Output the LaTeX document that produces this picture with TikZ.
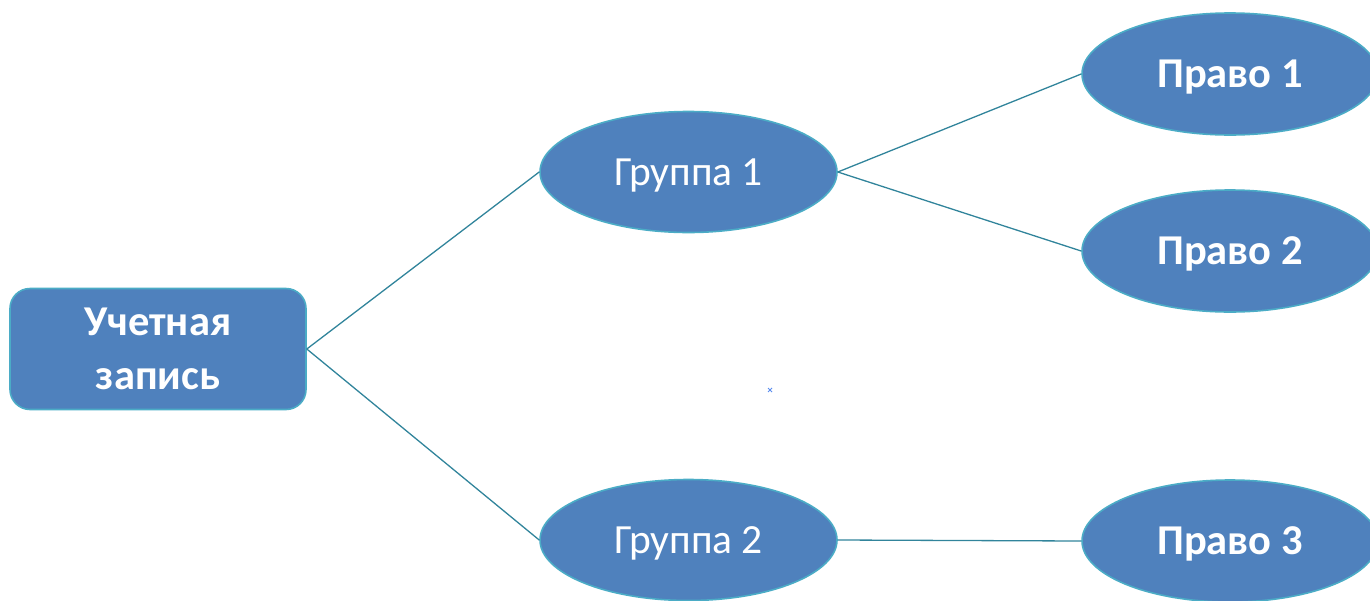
\documentclass[tikz,border=0pt]{standalone}
\usepackage{fontspec}
\setmainfont{Carlito}
\usetikzlibrary{shapes.geometric}
\definecolor{nodefill}{HTML}{4F81BD}
\definecolor{nodeborder}{HTML}{4BACC6}
\definecolor{linkcol}{HTML}{31849B}
\definecolor{markcol}{HTML}{5B8DEF}
\tikzset{
  base/.style={fill=nodefill, draw=nodeborder, line width=1.6pt, text=white, inner sep=0pt},
  acct/.style={base, rectangle, rounded corners=20pt, minimum width=296pt, minimum height=121pt,
    align=center, font=\fontsize{42.5}{54}\selectfont\bfseries},
  grp/.style={base, ellipse, minimum width=297pt, minimum height=121pt,
    text height=26.5pt, text depth=0pt, font=\fontsize{41.5}{50}\selectfont},
  right/.style={base, ellipse, minimum width=296pt, minimum height=122pt,
    text height=27pt, text depth=0pt, font=\fontsize{42.5}{50}\selectfont\bfseries},
  link/.style={draw=linkcol, line width=1.3pt},
}
\begin{document}
\begin{tikzpicture}[x=1pt,y=1pt]
\useasboundingbox (0,0) rectangle (1370,-600);
\node[acct] (acc) at (158,-349) {Учетная\\запись};
\node[grp] (g1) at (688.5,-172) {Группа 1};
\node[grp] (g2) at (688.5,-540) {Группа 2};
\node[right] (p1) at (1230,-74) {Право 1};
\node[right] (p2) at (1230,-251) {Право 2};
\node[right] (p3) at (1230,-541) {Право 3};
\draw[link] (acc.east) -- (g1.west);
\draw[link] (acc.east) -- (g2.west);
\draw[link] (g1.east) -- (p1.west);
\draw[link] (g1.east) -- (p2.west);
\draw[link] (g2.east) -- (p3.west);
\coordinate (mk) at (770,-390);
\draw[markcol, line width=0.8pt] ([shift={(-2,-2)}]mk) -- ([shift={(2,2)}]mk)
  ([shift={(-2,2)}]mk) -- ([shift={(2,-2)}]mk);
\end{tikzpicture}
\end{document}
